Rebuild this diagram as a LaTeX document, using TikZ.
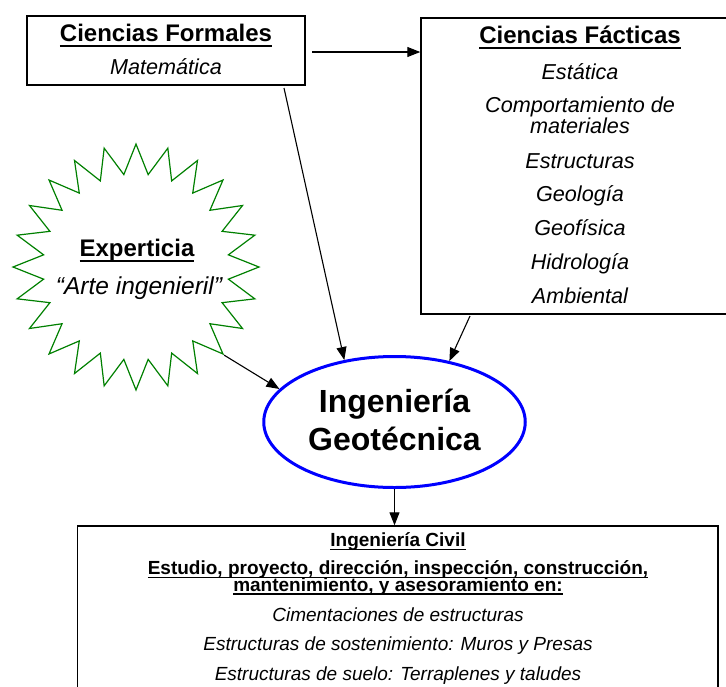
\documentclass[tikz,border=0pt]{standalone}
\usepackage{fontspec}
\setmainfont{Liberation Sans}
\usetikzlibrary{arrows.meta,shapes.geometric}
\definecolor{stargreen}{RGB}{0,128,0}
\definecolor{ellblue}{RGB}{0,0,255}
\newsavebox\ulsave
\newcommand\ulx[3]{\sbox\ulsave{#3}\rlap{\rule[-#1]{\wd\ulsave}{#2}}\usebox\ulsave}
\tikzset{
  boxshape/.style={draw=black, line width=1.4pt, inner sep=0pt, rectangle},
  txt/.style={inner sep=0pt, anchor=base, align=center},
  titlef/.style={font=\fontsize{24}{28}\selectfont\bfseries},
  itf/.style={font=\fontsize{21.6}{24}\selectfont\itshape},
  smb/.style={font=\fontsize{19}{22}\selectfont\bfseries},
  smi/.style={font=\fontsize{19}{22}\selectfont\itshape},
  arr/.style={line width=1.1pt, -{Triangle[length=13pt,width=10pt]}},
}
\begin{document}
\begin{tikzpicture}[x=1pt,y=-1pt]
\useasboundingbox (0,0) rectangle (726,686);
\clip (0,0) rectangle (726,686);
% boxes
\node[boxshape, minimum width=278pt, minimum height=69pt] (fo) at (166,50.5) {};
\node[boxshape, minimum width=318pt, minimum height=296pt] (fa) at (580,166) {};
\node[draw=stargreen, line width=1.2pt, star, star points=24, star point ratio=1.32,
      minimum size=246pt, inner sep=0pt] (st) at (136,267) {};
\node[draw=ellblue, line width=3pt, ellipse, minimum width=261.5pt, minimum height=131pt,
      inner sep=0pt] (ig) at (394.5,422) {};
\node[boxshape, minimum width=640.7pt, minimum height=274pt] (ic) at (397.7,663) {};
% Formales
\node[txt, titlef] (t1) at (166,41.7) {\ulx{5.3pt}{2pt}{Ciencias Formales}};
\node[txt, itf] (t2) at (166,74) {Matemática};
% Facticas
\node[txt, titlef] (f0) at (580,43.3) {\ulx{5.3pt}{2pt}{Ciencias Fácticas}};
\node[txt, itf] (f1) at (580,79.3) {Estática};
\node[txt, itf] (f2) at (580,112.8) {Comportamiento de};
\node[txt, itf] (f3) at (580,133.2) {materiales};
\node[txt, itf] (f4) at (580,168.3) {Estructuras};
\node[txt, itf] (f5) at (580,201.7) {Geología};
\node[txt, itf] (f6) at (580,235.5) {Geofísica};
\node[txt, itf] (f7) at (580,269.5) {Hidrología};
\node[txt, itf] (f8) at (580,303.3) {Ambiental};
% star text
\node[txt, titlef] (s1) at (137,256.7) {\ulx{5.3pt}{2pt}{Experticia}};
\node[txt, font=\fontsize{24.5}{28}\selectfont\itshape] (s2) at (139,294) {“Arte ingenieril”};
% ellipse text
\node[txt, font=\fontsize{32}{38}\selectfont\bfseries] (e1) at (394.5,412.7) {Ingeniería};
\node[txt, font=\fontsize{32}{38}\selectfont\bfseries] (e2) at (394.5,450.7) {Geotécnica};
% bottom text
\node[txt, smb] (b1) at (398,546.7) {\ulx{3.7pt}{1.4pt}{Ingeniería Civil}};
\node[txt, smb] (b2) at (398,574.5) {\ulx{3.7pt}{1.4pt}{Estudio, proyecto, dirección, inspección, construcción,}};
\node[txt, smb] (b3) at (398,591) {\ulx{3.7pt}{1.4pt}{mantenimiento, y asesoramiento en:}};
\node[txt, smi] (b4) at (398,621.7) {Cimentaciones de estructuras};
\node[txt, smi] (b5) at (398,650.5) {Estructuras de sostenimiento: Muros y Presas};
\node[txt, smi] (b6) at (398,680) {Estructuras de suelo: Terraplenes y taludes};
% connectors
\coordinate (foR) at (312,52);
\coordinate (foB) at (284,88);
\coordinate (faB) at (470,316);
\draw[arr] (foR) -- (fa.west |- foR);
\draw[arr] (foB) -- (ig.129.5);
\draw[arr] (faB) -- (ig.48);
\draw[arr] (st.-45) -- (ig.164);
\draw[arr] (ig.south) -- (ig.south |- ic.north);
\end{tikzpicture}
\end{document}
